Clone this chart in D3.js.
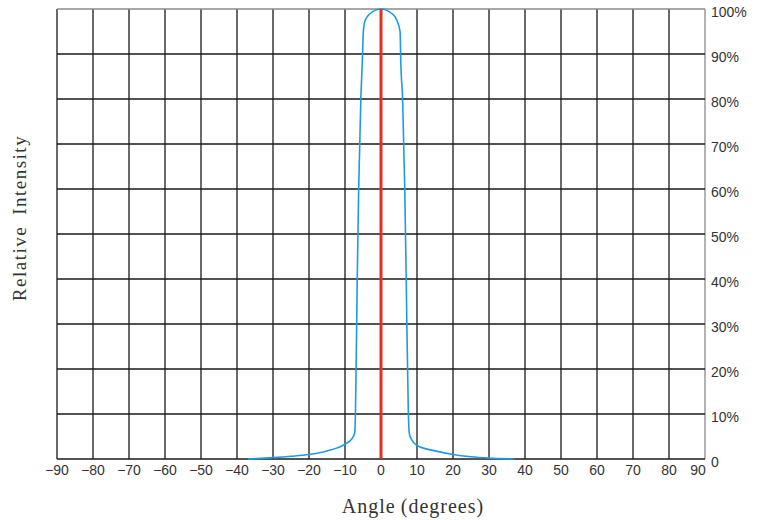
<!DOCTYPE html>
<html>
<head>
<meta charset="utf-8">
<script src="https://cdn.jsdelivr.net/npm/d3@7"></script>
<style>
  body { margin: 0; background: #fff; }
  #chart { width: 759px; height: 520px; }
</style>
</head>
<body>
<div id="chart"></div>
<script>
// beam profile
const angles = [-37, -30, -25, -20, -15, -10, -8, -7.3, -7.1, -6.6, -6.2, -5.6, -5.2, -4.9, -4.4, -3, 0,
                3, 4.4, 5.3, 5.5, 6.0, 6.6, 7.0, 7.6, 7.9, 8.5, 10, 15, 20, 25, 30, 37];
const intensity = [0, 0.3, 0.6, 1.0, 1.8, 3.3, 4.6, 5.8, 10, 40, 60, 80, 88, 95, 97.5, 99, 100,
                   99, 97.5, 95, 88, 80, 60, 40, 10, 5.5, 4.3, 3.0, 1.8, 1.0, 0.5, 0.2, 0];
const xTicks = [-90, -80, -70, -60, -50, -40, -30, -20, -10, 0, 10, 20, 30, 40, 50, 60, 70, 80, 90];
const yTicks = [0, 10, 20, 30, 40, 50, 60, 70, 80, 90, 100];

const width = 759, height = 520;
const margin = { top: 9, right: 54, bottom: 61, left: 57 };

const svg = d3.select('#chart').append('svg')
    .attr('width', width)
    .attr('height', height);

const x = d3.scaleLinear().domain([-90, 90]).range([margin.left, width - margin.right]);
const y = d3.scaleLinear().domain([0, 100]).range([height - margin.bottom, margin.top]);

const fmtX = d => d < 0 ? '\u2212' + Math.abs(d) : String(d);

// grid
const grid = svg.append('g');
grid.selectAll('line.v')
    .data(xTicks)
    .enter().append('line')
    .attr('class', 'v')
    .attr('x1', d => x(d)).attr('x2', d => x(d))
    .attr('y1', y(0)).attr('y2', y(100))
    .attr('stroke', d => d == 90 ? '#8a8a8a' : '#1a1a1a')
    .attr('stroke-width', 1.3);

grid.selectAll('line.h')
    .data(yTicks)
    .enter().append('line')
    .attr('class', 'h')
    .attr('x1', x(-90)).attr('x2', x(90))
    .attr('y1', d => y(d)).attr('y2', d => y(d))
    .attr('stroke', d => d == 100 ? '#8a8a8a' : '#1a1a1a')
    .attr('stroke-width', d => d == 0 ? 1.3 : 1.6);

// x tick labels, the last one nudged left to clear the "0"
svg.append('g').selectAll('text')
    .data(xTicks)
    .enter().append('text')
    .attr('x', d => d == 90 ? x(d) - 7 : x(d))
    .attr('y', y(0) + 16)
    .attr('text-anchor', 'middle')
    .style('font-family', "'Liberation Sans', Arial, sans-serif")
    .style('font-size', '14px')
    .style('fill', '#333')
    .text(fmtX);

// y tick labels (right side)
svg.append('g').selectAll('text')
    .data(yTicks)
    .enter().append('text')
    .attr('x', x(90) + 6)
    .attr('y', d => y(d) + 8)
    .style('font-family', "'Liberation Sans', Arial, sans-serif")
    .style('font-size', '14px')
    .style('fill', '#333')
    .text(d => d == 0 ? '0' : d + '%');

// curve
const line = d3.line()
    .x((d, i) => x(angles[i]))
    .y((d, i) => y(intensity[i]))
    .curve(d3.curveMonotoneX);

svg.append('path')
    .attr('d', line(angles))
    .attr('fill', 'none')
    .attr('stroke', '#1c9be4')
    .attr('stroke-width', 1.6);

// centre line
svg.append('line')
    .attr('x1', x(0)).attr('x2', x(0))
    .attr('y1', y(0)).attr('y2', y(100))
    .attr('stroke', '#e2301f')
    .attr('stroke-width', 3);

// axis titles
svg.append('text')
    .attr('x', 413)
    .attr('y', 513)
    .attr('text-anchor', 'middle')
    .style('font-family', "'Liberation Serif', 'Times New Roman', serif")
    .style('font-size', '20px')
    .style('letter-spacing', '1px')
    .style('fill', '#333')
    .text('Angle\u2009(degrees)');

svg.append('text')
    .attr('transform', 'translate(26, 218) rotate(-90)')
    .attr('text-anchor', 'middle')
    .style('font-family', "'Liberation Serif', 'Times New Roman', serif")
    .style('font-size', '19px')
    .style('letter-spacing', '1.5px')
    .style('fill', '#333')
    .text('Relative\u2002Intensity');
</script>
</body>
</html>
